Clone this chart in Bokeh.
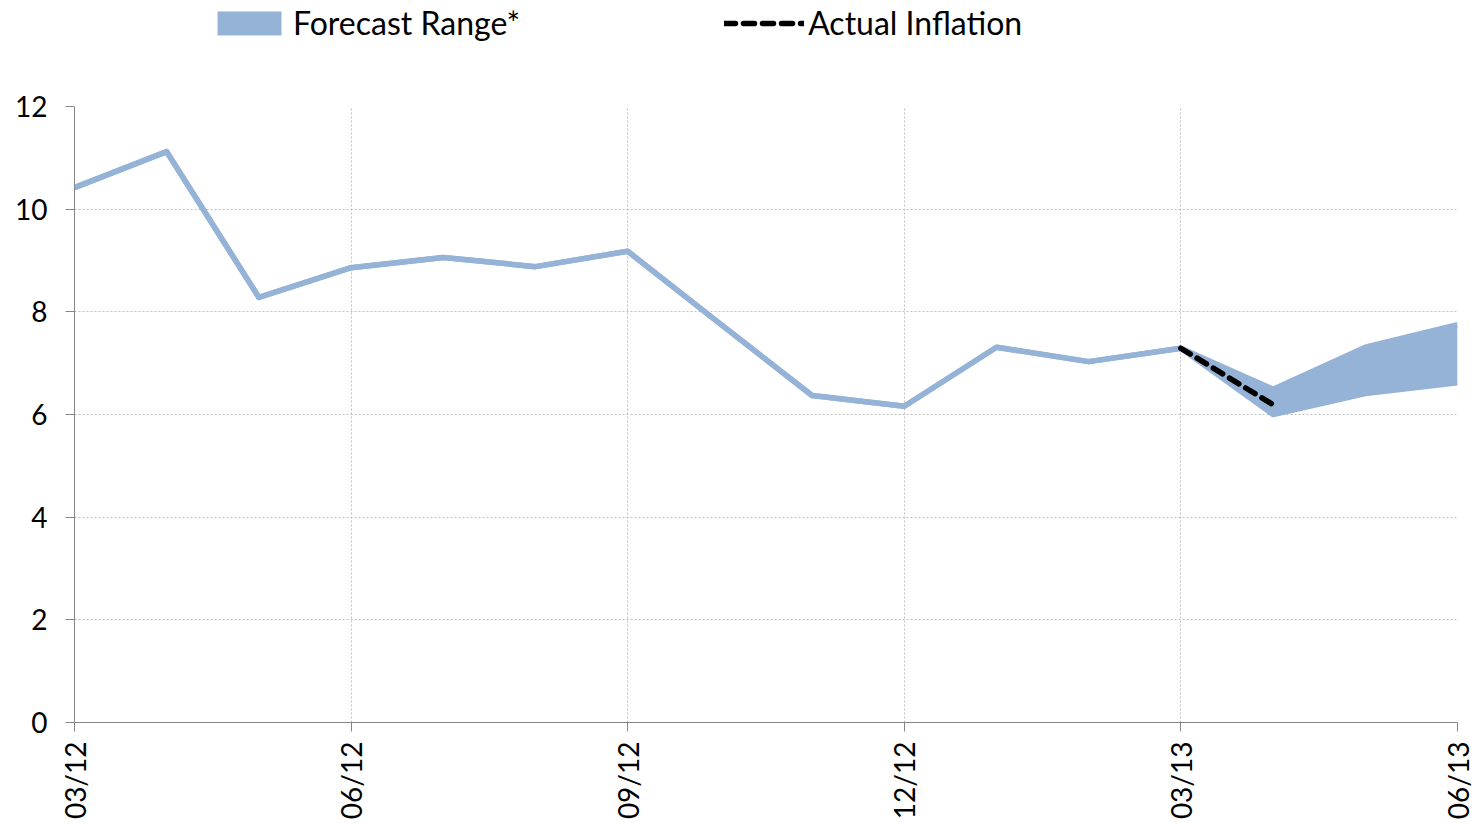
from bokeh.plotting import figure
from bokeh.layouts import column
from bokeh.models import ColumnDataSource, Legend, LegendItem, FixedTicker, Range1d
from bokeh.embed import file_html
from bokeh.resources import INLINE
import math

months = ["03/12", "04/12", "05/12", "06/12", "07/12", "08/12", "09/12", "10/12",
          "11/12", "12/12", "01/13", "02/13", "03/13", "04/13", "05/13", "06/13"]
range_upper = [10.42, 11.12, 8.28, 8.86, 9.06, 8.88, 9.18, 7.77,
               6.37, 6.16, 7.31, 7.03, 7.29, 6.49, 7.31, 7.75]
range_lower = [10.42, 11.12, 8.28, 8.86, 9.06, 8.88, 9.18, 7.77,
               6.37, 6.16, 7.31, 7.03, 7.29, 6.00, 6.41, 6.62]
actual_months = ["03/13", "04/13"]
actual_values = [7.29, 6.19]
tick_labels = ["03/12", "06/12", "09/12", "12/12", "03/13", "06/13"]
y_ticks = [0, 2, 4, 6, 8, 10, 12]
legend_labels = ["Forecast Range*", "Actual Inflation"]

x = list(range(len(months)))
ax = [months.index(m) for m in actual_months]
src = ColumnDataSource(dict(x=x, up=range_upper, lo=range_lower))

FONT = "Lato"
BLUE = "#95B3D7"
LW = 5.5
DASH = "11 8"

LEG_H = 60

# legend strip (its proxy glyphs reuse the series data but sit outside the strip's visible range)
lf = figure(width=1479, height=LEG_H, output_backend="svg", toolbar_location=None,
            x_range=Range1d(-100, -99), y_range=Range1d(-100, -99),
            min_border=0, min_border_left=0, min_border_right=0,
            min_border_top=0, min_border_bottom=0)
lf.axis.visible = False
lf.grid.visible = False
lf.outline_line_color = None
lband = lf.varea(x="x", y1="lo", y2="up", source=src, fill_color=BLUE)
lact = lf.line(ax, actual_values, line_color="black", line_width=LW, line_dash=DASH, line_cap="round")
legend = Legend(items=[LegendItem(label=legend_labels[0], renderers=[lband]),
                       LegendItem(label=legend_labels[1], renderers=[lact])],
                orientation="horizontal", location=(135, 18), margin=0,
                label_text_font=FONT, label_text_font_size="32px", label_text_color="black",
                glyph_width=80, glyph_height=30, spacing=204, padding=0,
                border_line_color=None, background_fill_alpha=0, label_standoff=4)
lf.add_layout(legend, "center")

p = figure(width=1479, height=823 - LEG_H, output_backend="svg", toolbar_location=None,
           x_range=Range1d(0, len(months) - 1), y_range=Range1d(0, 12),
           min_border_left=74, min_border_right=22, min_border_top=106 - LEG_H,
           min_border_bottom=101)
p.outline_line_color = None

p.varea(x="x", y1="lo", y2="up", source=src, fill_color=BLUE)
p.line(x="x", y="up", source=src, line_color=BLUE, line_width=LW, line_join="round")
p.line(x="x", y="lo", source=src, line_color=BLUE, line_width=LW, line_join="round")
p.line(ax, actual_values, line_color="black", line_width=LW, line_dash=DASH, line_cap="round")

tick_pos = [months.index(t) for t in tick_labels]
p.xaxis.ticker = FixedTicker(ticks=tick_pos)
p.xaxis.major_label_overrides = {i: t for i, t in zip(tick_pos, tick_labels)}
p.xaxis.major_label_orientation = math.pi / 2
p.yaxis.ticker = FixedTicker(ticks=y_ticks)

for a in (p.xaxis[0], p.yaxis[0]):
    a.axis_line_color = "#868686"
    a.major_tick_line_color = "#868686"
    a.major_tick_out = 9
    a.major_tick_in = 0
    a.minor_tick_out = 0
    a.minor_tick_in = 0
    a.major_label_text_font = FONT
    a.major_label_text_font_size = "28px"
    a.major_label_text_color = "black"
p.yaxis.major_label_standoff = 18
p.xaxis.major_label_standoff = 10

for g in (p.xgrid[0], p.ygrid[0]):
    g.grid_line_color = "#BFBFBF"
    g.grid_line_dash = "2 2"
    g.grid_line_width = 1
p.xgrid.ticker = FixedTicker(ticks=tick_pos)
p.ygrid.ticker = FixedTicker(ticks=y_ticks)

layout = column(lf, p, spacing=0)
open("out.html", "w").write(file_html(layout, INLINE))
